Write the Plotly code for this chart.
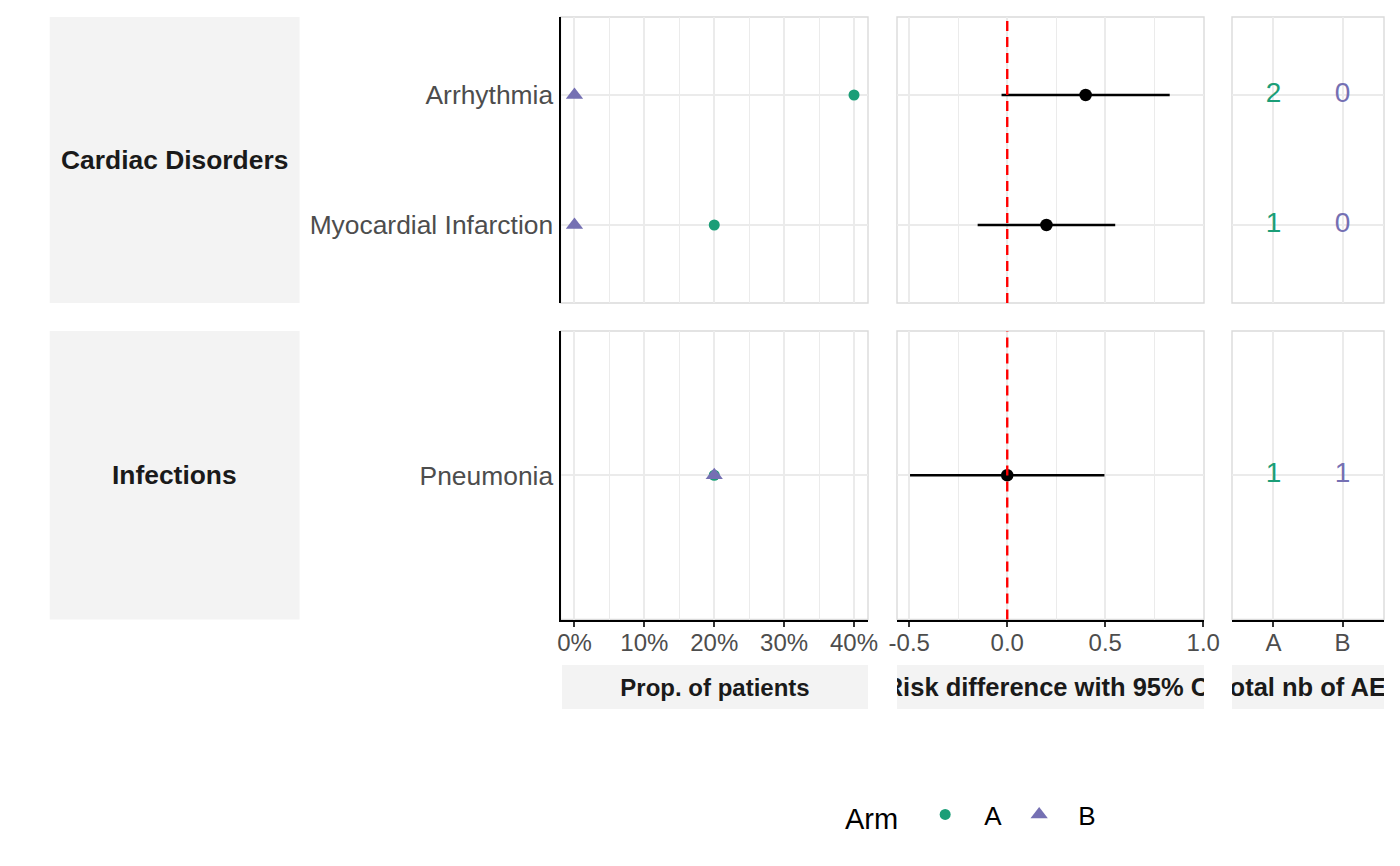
import plotly.graph_objects as go

# ---------------- data ----------------
adverse_events = ["Arrhythmia", "Myocardial Infarction", "Pneumonia"]
soc_of_event = ["Cardiac Disorders", "Cardiac Disorders", "Infections"]
soc_labels = ["Cardiac Disorders", "Infections"]
arms = ["A", "B"]
prop_arm_a = [0.4, 0.2, 0.2]
prop_arm_b = [0.0, 0.0, 0.2]
risk_diff = [0.4, 0.2, 0.0]
ci_lower = [-0.029, -0.151, -0.496]
ci_upper = [0.829, 0.551, 0.496]
count_arm_a = [2, 1, 1]
count_arm_b = [0, 0, 1]
prop_tick_values = [0, 0.1, 0.2, 0.3, 0.4]
prop_tick_labels = ["0%", "10%", "20%", "30%", "40%"]
rd_tick_values = [-0.5, 0.0, 0.5, 1.0]
rd_tick_labels = ["-0.5", "0.0", "0.5", "1.0"]
panel_titles = ["Prop. of patients", "Risk difference with 95% CI", "Total nb of AEs"]
legend_title = "Arm"

# ---------------- style ----------------
W, H = 1400, 866
GREEN = "#1B9E77"
PURPLE = "#7570B3"
GRID = "#EBEBEB"
BORDER = "#DADADA"
STRIP = "#F3F3F3"
TICK_COL = "#4D4D4D"
FONT = "Liberation Sans, Arial, sans-serif"
XTICK_SIZE = 24
YTICK_SIZE = 26.4
LSTRIP_SIZE = 26.4
BSTRIP_SIZES = [24, 25.5, 25.5]

col_px = [(560.5, 868.0), (897.0, 1204.0), (1232.0, 1384.0)]
row_px = [(17.0, 303.0), (331.0, 619.5)]
bstrip_px = (665.0, 709.0)
lstrip_px = (49.7, 299.6)


def px_x(x):
    return x / W


def px_y(y):
    return 1 - y / H


fig = go.Figure()
layout = dict(
    width=W, height=H, autosize=False,
    margin=dict(l=0, r=0, t=0, b=0, pad=0, autoexpand=False),
    paper_bgcolor="white", plot_bgcolor="white",
    font=dict(family=FONT, color="black"),
    shapes=[], annotations=[],
)


def ax_name(n, kind):
    return kind if n == 1 else f"{kind}{n}"


for r, soc in enumerate(soc_labels):
    idx = [i for i, s in enumerate(soc_of_event) if s == soc]
    ev = [adverse_events[i] for i in idx]
    cat_array = list(reversed(ev))
    for c in range(3):
        n = r * 3 + c + 1
        xa, ya = ax_name(n, "x"), ax_name(n, "y")
        x0, x1 = col_px[c]
        y0, y1 = row_px[r]
        bottom = r == len(soc_labels) - 1

        xaxis = dict(
            domain=[px_x(x0), px_x(x1)], anchor=ya, automargin=False,
            showgrid=True, gridcolor=GRID, gridwidth=1.8, zeroline=False,
            showline=bottom, linecolor="black", linewidth=2.2,
            ticks="outside" if bottom else "", ticklen=5, tickwidth=1.6, tickcolor="#333333",
            showticklabels=bottom, ticklabelstandoff=-4,
            tickfont=dict(size=XTICK_SIZE, color=TICK_COL, family=FONT),
        )
        if c == 0:
            xaxis.update(range=[-0.02, 0.42], tickvals=prop_tick_values, ticktext=prop_tick_labels,
                         minor=dict(dtick=0.05, tick0=0, showgrid=True, gridcolor=GRID, gridwidth=1.2, ticks=""))
        elif c == 1:
            xaxis.update(range=[-0.5625, 1.004], tickvals=rd_tick_values, ticktext=rd_tick_labels,
                         minor=dict(dtick=0.25, tick0=0, showgrid=True, gridcolor=GRID, gridwidth=1.2, ticks=""))
        else:
            xaxis.update(type="category", categoryorder="array", categoryarray=arms, range=[-0.6, 1.6])

        yaxis = dict(
            domain=[px_y(y1), px_y(y0)], anchor=xa, automargin=False,
            type="category", categoryorder="array", categoryarray=cat_array,
            range=[-0.6, len(ev) - 0.4],
            showgrid=True, gridcolor=GRID, gridwidth=1.8, zeroline=False,
            showline=(c == 0), linecolor="black", linewidth=2.2,
            ticks="", showticklabels=(c == 0), ticklabelstandoff=0,
            tickfont=dict(size=YTICK_SIZE, color=TICK_COL, family=FONT),
        )
        layout["x" + ("axis" if n == 1 else f"axis{n}")] = xaxis
        layout["y" + ("axis" if n == 1 else f"axis{n}")] = yaxis

        # panel border
        layout["shapes"].append(dict(type="rect", xref="paper", yref="paper",
                                     x0=px_x(x0), x1=px_x(x1), y0=px_y(y1), y1=px_y(y0),
                                     line=dict(color=BORDER, width=1.4), layer="below"))

        if c == 0:
            fig.add_trace(go.Scatter(
                x=[prop_arm_a[i] for i in idx], y=ev, mode="markers", name=arms[0],
                legendgroup="A", showlegend=(r == 0),
                marker=dict(symbol="circle", size=11, color=GREEN),
                xaxis=xa, yaxis=ya))
            fig.add_trace(go.Scatter(
                x=[prop_arm_b[i] for i in idx], y=ev, mode="markers", name=arms[1],
                legendgroup="B", showlegend=(r == 0),
                marker=dict(symbol="triangle-up", size=15, color=PURPLE),
                xaxis=xa, yaxis=ya))
        elif c == 1:
            rd = [risk_diff[i] for i in idx]
            fig.add_trace(go.Scatter(
                x=rd, y=ev, mode="markers", showlegend=False,
                marker=dict(symbol="circle", size=12.5, color="black"),
                error_x=dict(type="data", symmetric=False,
                             array=[ci_upper[i] - risk_diff[i] for i in idx],
                             arrayminus=[risk_diff[i] - ci_lower[i] for i in idx],
                             width=0, thickness=2.6, color="black"),
                xaxis=xa, yaxis=ya))
            layout["shapes"].append(dict(type="line", xref=xa, yref=f"{ya} domain",
                                         x0=0, x1=0, y0=0, y1=1,
                                         line=dict(color="#FF0000", width=2.4, dash="10px,6px"),
                                         layer="above"))
        else:
            fig.add_trace(go.Scatter(
                x=[arms[0]] * len(idx), y=ev, mode="text", showlegend=False,
                text=[str(count_arm_a[i]) for i in idx],
                textfont=dict(size=28, color=GREEN, family=FONT),
                xaxis=xa, yaxis=ya))
            fig.add_trace(go.Scatter(
                x=[arms[1]] * len(idx), y=ev, mode="text", showlegend=False,
                text=[str(count_arm_b[i]) for i in idx],
                textfont=dict(size=28, color=PURPLE, family=FONT),
                xaxis=xa, yaxis=ya))

    # left strip
    y0, y1 = row_px[r]
    layout["shapes"].append(dict(type="rect", xref="paper", yref="paper",
                                 x0=px_x(lstrip_px[0]), x1=px_x(lstrip_px[1]),
                                 y0=px_y(y1), y1=px_y(y0),
                                 fillcolor=STRIP, line=dict(width=0), layer="below"))
    layout["annotations"].append(dict(
        xref="paper", yref="paper", xanchor="center", yanchor="middle",
        x=px_x((lstrip_px[0] + lstrip_px[1]) / 2), y=px_y((y0 + y1) / 2),
        text=f"<b>{soc}</b>", showarrow=False,
        font=dict(size=LSTRIP_SIZE, color="#1A1A1A", family=FONT)))

# bottom strips (clipped text, as in the reference)
for c, title in enumerate(panel_titles):
    n = 7 + c
    xa, ya = f"x{n}", f"y{n}"
    x0, x1 = col_px[c]
    if c == 0:
        x0 = 562.0
    layout[f"xaxis{n}"] = dict(domain=[px_x(x0), px_x(x1)], anchor=ya, range=[0, 1],
                               visible=False, automargin=False)
    layout[f"yaxis{n}"] = dict(domain=[px_y(bstrip_px[1]), px_y(bstrip_px[0])], anchor=xa,
                               range=[0.07, 1.07], visible=False, automargin=False)
    layout["shapes"].append(dict(type="rect", xref="paper", yref="paper",
                                 x0=px_x(x0), x1=px_x(x1),
                                 y0=px_y(bstrip_px[1]), y1=px_y(bstrip_px[0]),
                                 fillcolor=STRIP, line=dict(width=0), layer="below"))
    fig.add_trace(go.Scatter(
        x=[0.5], y=[0.5], mode="text", text=[f"<b>{title}</b>"], showlegend=False,
        cliponaxis=True, hoverinfo="skip",
        textfont=dict(size=BSTRIP_SIZES[c], color="#1A1A1A", family=FONT),
        xaxis=xa, yaxis=ya))

layout["legend"] = dict(
    orientation="h", x=px_x(843), xanchor="left", y=px_y(815), yanchor="middle",
    title=dict(text=legend_title, font=dict(size=29, color="black", family=FONT)),
    font=dict(size=26, color="black", family=FONT),
    itemwidth=68, entrywidth=11, entrywidthmode="pixels", bgcolor="rgba(0,0,0,0)",
)

fig.update_layout(**layout)
fig.write_html(
    "out.html",
    config={"displayModeBar": False, "responsive": False},
    post_script="document.body.style.margin='0';document.body.style.overflow='hidden';",
)
